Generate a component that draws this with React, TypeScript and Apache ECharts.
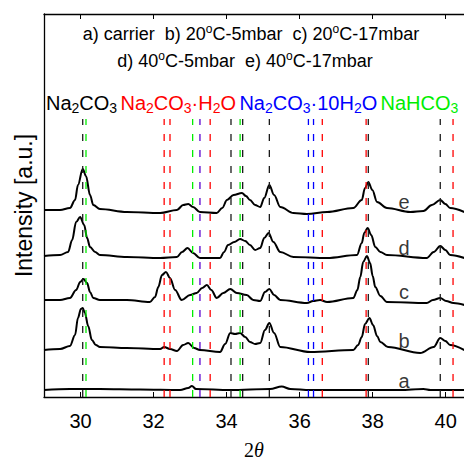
import React, { useEffect, useRef } from "react";
import * as echarts from "echarts";

// ---- data ----
const traceNames = ["a", "b", "c", "d", "e"];
const traceOffsets = [7, 47, 96, 140, 186];

const traceA: [number, number][] = [
  [29.0, 0], [29.71, 1], [30.53, 1], [31.63, 0.5], [32.73, 0], [32.95, 2], [33.05, 4], [33.16, 1],
  [34.1, 0], [35.19, 1], [35.51, 3.5], [35.74, 1], [36.29, 0], [38.75, 0], [39.39, 1], [39.58, 0], [40.51, 0],
];
const traceB: [number, number][] = [
  [29.0, 0], [29.44, 1], [29.71, 4], [29.85, 15], [29.93, 32], [30.01, 41], [30.06, 42], [30.12, 37],
  [30.21, 24], [30.31, 10], [30.42, 5], [30.53, 3], [31.27, 2], [32.18, 1], [32.29, 3], [32.45, 1],
  [32.64, -1], [32.81, 5], [32.95, 7], [33.11, 2], [33.27, 0], [33.82, -2], [33.96, 6], [34.1, 17],
  [34.23, 16], [34.37, 17], [34.51, 13], [34.64, 8], [34.78, 6], [34.92, 7], [35.05, 20], [35.17, 27],
  [35.3, 17], [35.47, 3], [36.29, -2], [37.47, 0], [37.6, 5], [37.7, 13], [37.79, 26], [37.91, 32],
  [38.01, 25], [38.12, 14], [38.21, 8], [38.42, 3], [39.3, -3], [39.67, 3], [39.85, 12], [39.99, 9],
  [40.12, 5], [40.51, 0],
];
const traceC: [number, number][] = [
  [29.0, 1], [29.44, 1], [29.71, 3], [29.88, 11], [29.99, 19], [30.08, 22], [30.18, 18], [30.26, 9],
  [30.35, 3], [30.53, 1], [31.27, 1], [31.9, -1], [32.04, 4], [32.13, 14], [32.23, 26], [32.34, 29],
  [32.45, 23], [32.59, 11], [32.77, 1], [33.0, 6], [33.18, 8], [33.33, 13], [33.46, 16], [33.58, 11],
  [33.73, 3], [33.91, 8], [34.1, 12], [34.28, 8], [34.55, 6], [34.73, 1], [34.92, 0], [35.05, 9],
  [35.17, 12], [35.3, 6], [35.47, 1], [36.2, -2], [36.37, 0], [36.56, 1], [36.75, -1], [37.47, 3],
  [37.58, 11], [37.66, 24], [37.74, 39], [37.84, 45], [37.93, 38], [38.0, 25], [38.07, 14], [38.21, 5],
  [38.39, -1], [39.48, -2], [39.65, 1], [39.85, 3], [40.01, 0], [40.21, -2], [40.51, -4],
];
const traceD: [number, number][] = [
  [29.0, 1], [29.44, 2], [29.66, 5], [29.77, 17], [29.88, 35], [29.99, 40], [30.1, 32], [30.18, 19],
  [30.26, 10], [30.4, 5], [30.53, 2], [31.27, 0], [32.18, -1], [32.64, 0], [32.78, 5], [32.93, 9],
  [33.08, 4], [33.27, -1], [33.82, -1], [33.93, 5], [34.04, 12], [34.21, 15], [34.37, 18], [34.51, 16],
  [34.64, 12], [34.78, 7], [34.92, 9], [35.03, 19], [35.15, 24], [35.28, 15], [35.47, 5], [35.83, 0],
  [36.75, -1], [37.57, 2], [37.7, 14], [37.77, 24], [37.86, 29], [37.96, 22], [38.07, 10], [38.21, 5],
  [38.39, 2], [39.48, -1], [39.67, 5], [39.85, 11], [39.99, 7], [40.12, 2], [40.51, -1],
];
const traceE: [number, number][] = [
  [29.0, 1], [29.44, 1], [29.71, 3], [29.85, 11], [29.93, 26], [30.06, 42], [30.15, 35], [30.26, 16],
  [30.35, 6], [30.53, 2], [31.27, -1], [32.18, -2], [32.64, 1], [32.81, 6], [32.95, 7], [33.08, 4],
  [33.27, -1], [33.73, -2], [33.88, 3], [34.01, 11], [34.19, 16], [34.42, 18], [34.53, 15], [34.64, 11],
  [34.78, 6], [34.92, 4], [35.03, 13], [35.17, 26], [35.3, 16], [35.47, 4], [35.83, -2], [36.2, -3],
  [36.75, -1], [37.47, 3], [37.7, 11], [37.79, 23], [37.88, 29], [37.99, 21], [38.12, 9], [38.39, 3],
  [39.03, -1], [39.39, 0], [39.62, 6], [39.85, 11], [39.99, 7], [40.12, 3], [40.51, -1],
];
const traces = [traceA, traceB, traceC, traceD, traceE];

// reference line positions (2θ)
const na2co3Lines = [30.06, 34.12, 34.44, 35.17, 37.88, 39.85];
const monohydrateLines = [32.29, 32.45, 33.55, 36.62, 37.82, 40.2];
const decahydrateLines = [36.24, 36.38];
const nahco3Lines = [30.15, 33.07, 34.37];
const overlapLines = [33.27];

const xTicks = [30, 32, 34, 36, 38, 40];

const FONT = "'Liberation Sans', Arial, sans-serif";
const SERIF = "'Liberation Serif', 'Times New Roman', serif";

export default function App() {
  const ref = useRef<HTMLDivElement>(null);
  useEffect(() => {
    if (!ref.current) return;
    const chart = echarts.init(ref.current, undefined, { renderer: "svg" });
    const lineTop = 278;

    const refGroups: { vals: number[]; color: string }[] = [
      { vals: na2co3Lines, color: "#1a1a1a" },
      { vals: monohydrateLines, color: "#ff0000" },
      { vals: decahydrateLines, color: "#0000ff" },
      { vals: nahco3Lines, color: "#00ee00" },
      { vals: overlapLines, color: "#5a00d0" },
    ];
    const refSeries: any[] = [];
    refGroups.forEach((g) => {
      g.vals.forEach((v) => {
        refSeries.push({
          type: "line",
          data: [[v, 0], [v, lineTop]],
          symbol: "none",
          silent: true,
          lineStyle: { color: g.color, width: 1.3, type: [7, 9] },
          z: 3,
        });
      });
    });

    const traceSeries = traces.map((t, i) => ({
      type: "line",
      name: traceNames[i],
      data: t.map(([x, y]) => [x, y + traceOffsets[i]]),
      symbol: "none",
      smooth: 0.35,
      smoothMonotone: "x",
      lineStyle: { color: "#000", width: 2 },
      z: 2,
    }));

    const labelSeries = {
      type: "scatter",
      symbolSize: 0,
      data: traceNames.map((n, i) => ({ value: [38.86, traceOffsets[i] + 9], name: n })),
      label: {
        show: true,
        position: "inside",
        formatter: (p: any) => p.name,
        fontSize: 20,
        fontFamily: FONT,
        color: "#000",
      },
      z: 4,
    };

    const supStyle = { fontSize: 12, fontFamily: FONT, fill: "#000", padding: [0, 0, 10, 0] };
    const mainStyle = { fontSize: 18, fontFamily: FONT, fill: "#000" };

    const sub = (c: string) => ({ fontSize: 14, fontFamily: FONT, fill: c, padding: [10, 0, 0, 0] });
    const main = (c: string) => ({ fontSize: 20, fontFamily: FONT, fill: c });

    chart.setOption({
      animation: false,
      grid: { left: 44, right: 0, top: 14, bottom: 66, outerBoundsMode: "none", containLabel: false },
      xAxis: [
        {
          type: "value",
          min: 29,
          max: 40.5,
          name: "2{i|θ}",
          nameLocation: "middle",
          nameGap: 43,
          nameTextStyle: {
            fontSize: 20,
            lineHeight: 20,
            fontFamily: SERIF,
            color: "#000",
            rich: {
              i: { fontSize: 20, lineHeight: 20, fontStyle: "italic", fontFamily: SERIF, color: "#000" },
            },
          },
          axisLine: { show: true, onZero: false, lineStyle: { color: "#000", width: 1.3 } },
          axisTick: { show: true, inside: true, length: 5, customValues: xTicks, lineStyle: { color: "#000" } },
          axisLabel: {
            show: true,
            customValues: xTicks,
            fontSize: 20,
            fontFamily: FONT,
            color: "#000",
            margin: 14,
          },
          splitLine: { show: false },
        },
        {
          type: "value",
          position: "top",
          min: 29,
          max: 40.5,
          axisLine: { show: true, onZero: false, lineStyle: { color: "#000", width: 1.3 } },
          axisTick: { show: true, inside: true, length: 5, customValues: xTicks, lineStyle: { color: "#000" } },
          axisLabel: { show: false },
          splitLine: { show: false },
        },
      ],
      yAxis: {
        type: "value",
        min: 0,
        max: 383,
        name: "Intensity [a.u.]",
        nameLocation: "middle",
        nameGap: 9,
        nameTextStyle: { fontSize: 23, fontFamily: FONT, color: "#000" },
        axisLine: { show: true, lineStyle: { color: "#000", width: 1.3 } },
        axisTick: { show: false },
        axisLabel: { show: false },
        splitLine: { show: false },
      },
      graphic: [
        {
          type: "text",
          x: 251,
          y: 34,
          style: {
            text: "{t|a) carrier  b) 20}{s|o}{t|C-5mbar  c) 20}{s|o}{t|C-17mbar}",
            align: "center",
            verticalAlign: "middle",
            rich: { t: mainStyle, s: supStyle },
          },
        },
        {
          type: "text",
          x: 245,
          y: 61,
          style: {
            text: "{t|d) 40}{s|o}{t|C-5mbar  e) 40}{s|o}{t|C-17mbar}",
            align: "center",
            verticalAlign: "middle",
            rich: { t: mainStyle, s: supStyle },
          },
        },
        {
          type: "text",
          x: 46,
          y: 103,
          style: {
            text:
              "{k|Na}{ks|2}{k|CO}{ks|3} {r|Na}{rs|2}{r|CO}{rs|3}{r|·H}{rs|2}{r|O} " +
              "{b|Na}{bs|2}{b|CO}{bs|3}{b|·10H}{bs|2}{b|O} {g|NaHCO}{gs|3}",
            align: "left",
            verticalAlign: "middle",
            rich: {
              k: main("#000"), ks: sub("#000"),
              r: main("#ff0000"), rs: sub("#ff0000"),
              b: main("#0000ff"), bs: sub("#0000ff"),
              g: main("#00ee00"), gs: sub("#00ee00"),
            },
          },
        },
      ],
      series: [...traceSeries, ...refSeries, labelSeries],
    });
    return () => chart.dispose();
  }, []);
  return (
    <div
      ref={ref}
      style={{ position: "fixed", left: 0, top: 0, width: 464, height: 463, background: "#fff" }}
    />
  );
}
